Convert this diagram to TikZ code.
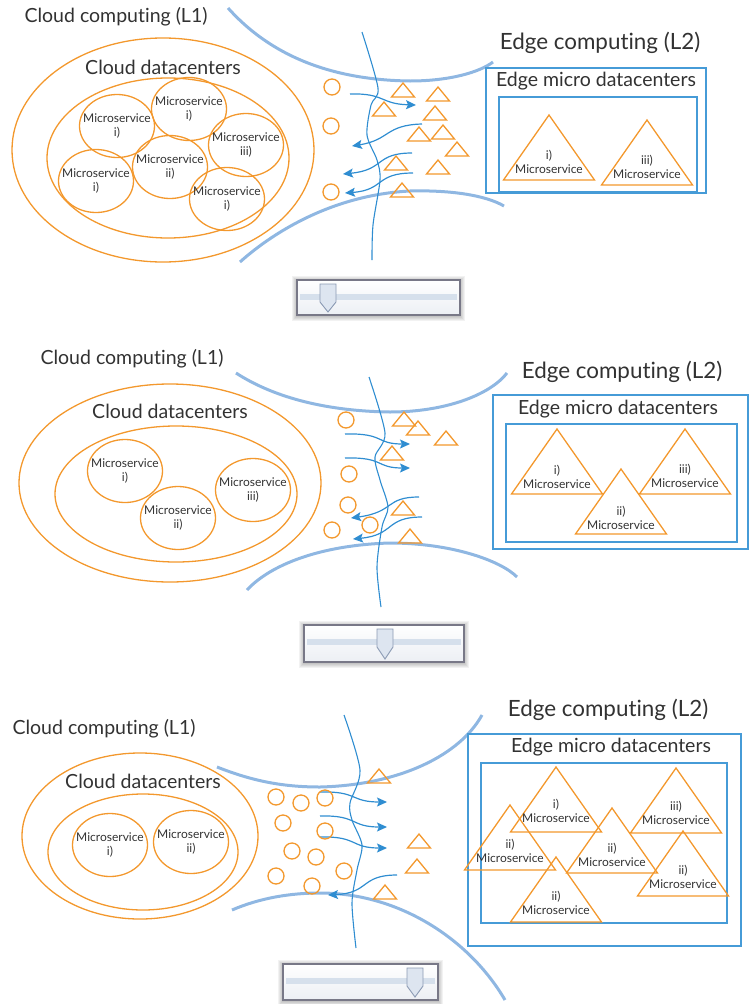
\documentclass[tikz,border=0pt]{standalone}
\usepackage{fontspec}
\setmainfont{Lato}[Ligatures={NoCommon}]
\usepackage{xcolor}
\usetikzlibrary{shapes,arrows,positioning,calc,arrows.meta}

\definecolor{msorange}{RGB}{243,152,45}
\definecolor{thickblue}{RGB}{143,183,226}
\definecolor{thinblue}{RGB}{47,141,209}
\definecolor{boxblue}{RGB}{70,155,215}
\definecolor{txtgray}{RGB}{50,50,50}
\definecolor{sliderframe}{RGB}{120,120,135}
\definecolor{sliderbot}{RGB}{236,239,244}
\definecolor{slidertrack}{RGB}{214,224,236}
\definecolor{thumbfill}{RGB}{221,229,240}
\definecolor{thumbedge}{RGB}{140,155,180}

\newcommand{\bigtxt}{\fontsize{19.5}{23}\selectfont}
\newcommand{\edgetxt}{\fontsize{22.4}{26}\selectfont}
\newcommand{\mstxt}{\fontsize{12}{14}\selectfont}

% slider: left x, top y, right x, bottom y, thumb x
\newcommand{\slider}[5]{%
  \foreach \s in {5,4,3,2,1}
    \fill[black, opacity=0.05] (#1-\s,#2-\s+1) rectangle (#3+\s,#4+\s+1);
  \draw[draw=sliderframe, line width=1.5, top color=white, bottom color=sliderbot] (#1,#2) rectangle (#3,#4);
  \fill[slidertrack] (#1+3,#2+14) rectangle (#3-3,#2+20);
  \draw[draw=thumbedge, fill=thumbfill, line width=0.9] (#5-8,#2+4) -- (#5+8,#2+4) -- (#5+8,#2+22) -- (#5,#4-3) -- (#5-8,#2+22) -- cycle;
}

\tikzset{
  msline/.style={draw=msorange, line width=1.3},
  msnode/.style={ellipse, draw=msorange, line width=1.3, minimum width=75, minimum height=63, inner xsep=-9pt, inner ysep=0pt, align=center, font=\mstxt, text=txtgray},
  tritext/.style={align=center, font=\mstxt, text=txtgray},
  title/.style={font=\bigtxt, text=txtgray},
  edgetitle/.style={font=\edgetxt, text=txtgray},
  fade/.style={draw=thickblue, line width=3},
  wave/.style={draw=thinblue, line width=1.1},
  flow/.style={draw=thinblue, line width=1.2, -{Stealth[length=10pt,width=9pt,inset=2pt]}},
  edgebox/.style={draw=boxblue, line width=1.3},
  smtri/.pic={\draw[msline] (-11.5,7) -- (0,-7) -- (11.5,7) -- cycle;},
  bigtri/.pic={\draw[msline] (-45.5,0) -- (0,-65) -- (45.5,0) -- cycle;}
}

\begin{document}
\begin{tikzpicture}[x=1pt, y=-1pt]
    \useasboundingbox (0,0) rectangle (753,1004);

    % ---------- Panel 1 ----------
    \node[title] (p1cloud) at (116,17) {Cloud computing (L1)};
    \draw[msline] (163,150) ellipse [x radius=151, y radius=112];
    \node[title] (p1dc) at (163,67) {Cloud datacenters};
    \draw[msline] (168,158) ellipse [x radius=121, y radius=80];
    \node[msnode] (p1msa) at (117,126) {Microservice\\i)};
    \node[msnode] (p1msb) at (189,109) {Microservice\\i)};
    \node[msnode] (p1msc) at (246,145) {Microservice\\iii)};
    \node[msnode] (p1msd) at (170,167) {Microservice\\ii)};
    \node[msnode] (p1mse) at (96,181) {Microservice\\i)};
    \node[msnode] (p1msf) at (227,199) {Microservice\\i)};

    % network border
    \draw[fade] (228,8) .. controls (270,55) and (330,80) .. (410,81) .. controls (450,81) and (480,72) .. (493,62);
    \draw[fade] (240,262) .. controls (270,235) and (330,195) .. (410,191) .. controls (450,190) and (485,195) .. (504,206);
    \draw[wave] plot[smooth, tension=0.5] coordinates {(362,32) (378,88) (371,105) (367,135) (377,160) (380,180) (373,225) (372,260)};

    % traffic
    \draw[flow] (350,94) .. controls (385,93) and (380,104) .. (416,105);
    \draw[flow] (422,124) .. controls (385,125) and (390,140) .. (352,146);
    \draw[flow] (412,153) .. controls (375,153) and (385,170) .. (343,174);
    \draw[flow] (413,173) .. controls (375,173) and (385,190) .. (345,193);
    \foreach \x/\y in {332/87, 331/126, 331/192}
        \draw[msline] (\x,\y) circle (8);
    \foreach \x/\y in {403/90, 438/94, 384/109, 435/113, 419/134, 443/132, 457/149, 396/163, 438/167, 402/190}
        \pic at (\x,\y) {smtri};

    % edge side
    \node[edgetitle] (p1edge) at (600,43) {Edge computing (L2)};
    \draw[edgebox] (486,68) rectangle (706,193);
    \node[title] (p1micro) at (596,81) {Edge micro datacenters};
    \draw[edgebox] (499,97) rectangle (697,192);
    \pic at (549,180) {bigtri};
    \node[tritext] (p1tra) at (549,162) {i)\\Microservice};
    \pic at (647,185) {bigtri};
    \node[tritext] (p1trb) at (647,167) {iii)\\Microservice};

    \slider{297}{280}{460}{315}{328}

    % ---------- Panel 2 ----------
    \node[title] (p2cloud) at (132,359) {Cloud computing (L1)};
    \draw[msline] (170,483) ellipse [x radius=151, y radius=99];
    \node[title] (p2dc) at (170,411) {Cloud datacenters};
    \draw[msline] (176,494) ellipse [x radius=121, y radius=68];
    \node[msnode] (p2msa) at (125,471) {Microservice\\i)};
    \node[msnode] (p2msb) at (178,518) {Microservice\\ii)};
    \node[msnode] (p2msc) at (253,490) {Microservice\\iii)};

    % network border
    \draw[fade] (236,373) .. controls (270,395) and (320,411) .. (390,412) .. controls (445,412) and (490,395) .. (507,373);
    \draw[fade] (247,590) .. controls (270,565) and (320,545) .. (390,543) .. controls (450,543) and (500,560) .. (517,577);
    \draw[wave] plot[smooth, tension=0.5] coordinates {(369,377) (385,433) (375,457) (380,480) (388,507) (382,527) (377,567) (381,607)};

    % traffic
    \draw[flow] (345,434) .. controls (385,433) and (375,444) .. (410,444);
    \draw[flow] (345,458) .. controls (385,457) and (375,468) .. (410,468);
    \draw[flow] (419,497) .. controls (385,497) and (395,512) .. (351,518);
    \draw[flow] (422,517) .. controls (385,517) and (395,535) .. (353,539);
    \foreach \x/\y in {346/420, 349/474, 348/505, 332/530, 370/525}
        \draw[msline] (\x,\y) circle (8);
    \foreach \x/\y in {404/419, 418/428, 446/438, 392/453, 403/508, 410/536}
        \pic at (\x,\y) {smtri};

    % edge side
    \node[edgetitle] (p2edge) at (622,372) {Edge computing (L2)};
    \draw[edgebox] (493,395) rectangle (748,549);
    \node[title] (p2micro) at (618,409) {Edge micro datacenters};
    \draw[edgebox] (506,424) rectangle (737,542);
    \pic at (557,494) {bigtri};
    \node[tritext] (p2tra) at (557,477) {i)\\Microservice};
    \pic at (685,494) {bigtri};
    \node[tritext] (p2trb) at (685,476) {iii)\\Microservice};
    \pic at (621,534) {bigtri};
    \node[tritext] (p2trc) at (621,518) {ii)\\Microservice};

    \slider{304}{625}{464}{662}{385}

    % ---------- Panel 3 ----------
    \node[title] (p3cloud) at (104,729) {Cloud computing (L1)};
    \draw[msline] (140,836) ellipse [x radius=118, y radius=83];
    \node[title] (p3dc) at (143,781) {Cloud datacenters};
    \draw[msline] (143,852) ellipse [x radius=95, y radius=58];
    \node[msnode] (p3msa) at (110,845) {Microservice\\i)};
    \node[msnode] (p3msb) at (191,842) {Microservice\\ii)};

    % network border
    \draw[fade] (217,767) .. controls (250,780) and (280,787) .. (320,787) .. controls (400,785) and (460,755) .. (482,715);
    \draw[fade] (232,910) .. controls (260,898) and (290,893) .. (320,893) .. controls (400,893) and (470,940) .. (505,1000);
    \draw[wave] plot[smooth, tension=0.5] coordinates {(344,715) (360,770) (350,803) (352,820) (362,845) (357,870) (352,903) (356,948)};

    % traffic
    \draw[flow] (320,792) .. controls (358,791) and (350,802) .. (387,802);
    \draw[flow] (320,816) .. controls (358,815) and (350,827) .. (387,827);
    \draw[flow] (320,837) .. controls (358,836) and (350,848) .. (387,848);
    \draw[flow] (397,875) .. controls (360,875) and (370,893) .. (328,895);
    \foreach \x/\y in {276/797, 301/803, 325/798, 283/823, 325/831, 292/851, 316/857, 344/871, 276/876, 312/886}
        \draw[msline] (\x,\y) circle (8);
    \foreach \x/\y in {379/776, 419/841, 417/866, 385/892}
        \pic at (\x,\y) {smtri};

    % edge side
    \node[edgetitle] (p3edge) at (608,710) {Edge computing (L2)};
    \draw[edgebox] (468,734) rectangle (741,946);
    \node[title] (p3micro) at (611,747) {Edge micro datacenters};
    \draw[edgebox] (481,763) rectangle (727,923);
    \pic at (556,832) {bigtri};
    \node[tritext] (p3tra) at (556,811) {i)\\Microservice};
    \pic at (676,833) {bigtri};
    \node[tritext] (p3trb) at (676,813) {iii)\\Microservice};
    \pic at (510,870) {bigtri};
    \node[tritext] (p3trc) at (510,851) {ii)\\Microservice};
    \pic at (612,873) {bigtri};
    \node[tritext] (p3trd) at (612,855) {ii)\\Microservice};
    \pic at (683,896) {bigtri};
    \node[tritext] (p3tre) at (683,877) {ii)\\Microservice};
    \pic at (556,922) {bigtri};
    \node[tritext] (p3trf) at (556,903) {ii)\\Microservice};

    \slider{283}{964}{438}{1000}{415}
\end{tikzpicture}
\end{document}
